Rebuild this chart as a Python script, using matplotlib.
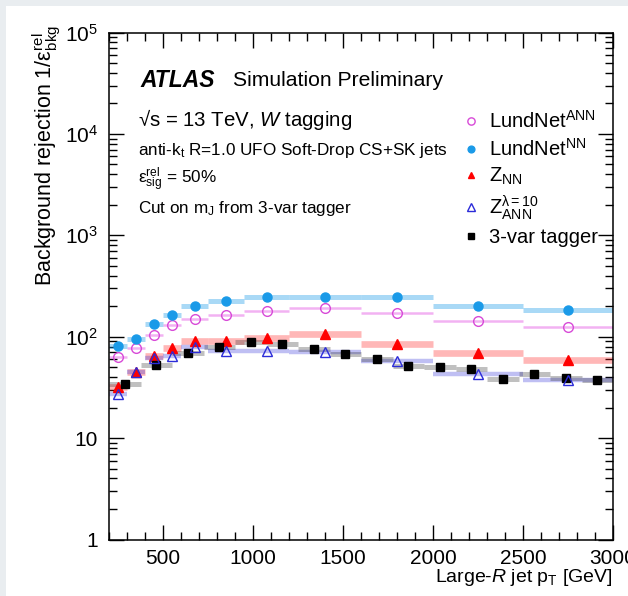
import numpy as np
import matplotlib
matplotlib.use('Agg')
import matplotlib.pyplot as plt
from matplotlib.ticker import MultipleLocator, LogLocator, FuncFormatter, NullFormatter
from matplotlib.patches import Rectangle

# pT bins used by the LundNet / Z taggers
lund_edges = [200, 300, 400, 500, 600, 750, 950, 1200, 1600, 2000, 2500, 3000]
lundnet_ann = [63, 77, 104, 131, 148, 164, 179, 193, 173, 144, 126]
lundnet_nn = [81, 95, 132, 165, 202, 226, 245, 248, 248, 201, 185]
z_nn = [32, 45, 64, 77, 91, 91, 96, 106, 85, 69, 59]
z_ann = [27, 45, 61, 64, 79, 73, 73, 71, 57, 43, 37]

# finer binning of the 3-var tagger
var3_edges = [200, 375, 550, 725, 900, 1075, 1250, 1425, 1600, 1775, 1950,
              2125, 2300, 2475, 2650, 2825, 3000]
var3 = [34, 53, 69, 79, 89, 85, 75, 68, 60.5, 51.5, 50, 48, 38.5, 42.5, 39.4, 37.2]


def y_fmt(v, pos):
    if v == 1:
        return '1'
    if v == 10:
        return '10'
    return '$10^{%d}$' % int(round(np.log10(v)))


def main():
    plt.rcParams['font.family'] = 'Liberation Sans'
    plt.rcParams['mathtext.fontset'] = 'custom'
    plt.rcParams['mathtext.rm'] = 'Liberation Sans'
    plt.rcParams['mathtext.it'] = 'Liberation Sans:italic'
    plt.rcParams['mathtext.bf'] = 'Liberation Sans:bold'

    fig = plt.figure(figsize=(6.28, 5.96), dpi=100, facecolor='#e9edf0')
    fig.patches.append(Rectangle((6 / 628, 0), 1, 590 / 596, transform=fig.transFigure,
                                 facecolor='white', edgecolor='none', zorder=-10))
    ax = fig.add_axes([109 / 628, 56.5 / 596, 504 / 628, 507 / 596])
    ax.set_zorder(5)

    lo = np.array(lund_edges[:-1])
    hi = np.array(lund_edges[1:])
    mid = (lo + hi) / 2
    vlo = np.array(var3_edges[:-1])
    vhi = np.array(var3_edges[1:])
    vmid = (vlo + vhi) / 2

    # uncertainty bands
    ax.hlines(lundnet_nn, lo, hi, colors='#1e9be8', alpha=0.38, linewidth=3.6)
    ax.hlines(lundnet_ann, lo, hi, colors='#e040e0', alpha=0.4, linewidth=1.8)
    ax.hlines(z_nn, lo, hi, colors='#ff2020', alpha=0.32, linewidth=4.8)
    ax.hlines(z_ann, lo, hi, colors='#2b2bd8', alpha=0.3, linewidth=3.2)
    ax.hlines(var3, vlo, vhi, colors='#303030', alpha=0.3, linewidth=3.6)

    ax.plot(mid, lundnet_ann, 'o', mfc='none', mec='#d84ad8', mew=1.0, ms=7,
            label='LundNet$^{\\mathrm{ANN}}$', zorder=5)
    ax.plot(mid, lundnet_nn, 'o', color='#1a9ae8', ms=6.5,
            label='LundNet$^{\\mathrm{NN}}$', zorder=5)
    ax.plot(mid, z_nn, '^', color='#ff0000', ms=6.5,
            label='Z$_{\\mathrm{NN}}$', zorder=5)
    ax.plot(mid, z_ann, '^', mfc='none', mec='#2b2bd8', mew=1.0, ms=7,
            label='Z$^{\\mathrm{\u03bb=10}}_{\\mathrm{ANN}}$', zorder=6)
    ax.plot(vmid, var3, 's', color='black', ms=6,
            label='3-var tagger', zorder=5)

    ax.set_xlim(200, 3000)
    ax.set_yscale('log')
    ax.set_ylim(1, 1e5)

    ax.xaxis.set_major_locator(MultipleLocator(500))
    ax.xaxis.set_minor_locator(MultipleLocator(100))
    ax.yaxis.set_major_locator(LogLocator(base=10, numticks=10))
    ax.yaxis.set_minor_locator(LogLocator(base=10, subs=np.arange(2, 10), numticks=20))
    ax.yaxis.set_major_formatter(FuncFormatter(y_fmt))
    ax.yaxis.set_minor_formatter(NullFormatter())

    ax.tick_params(which='both', direction='in', top=True, right=True, width=1.0,
                   labelsize=15)
    ax.tick_params(axis='x', which='major', length=11, pad=7)
    ax.tick_params(axis='x', which='minor', length=5.5)
    ax.tick_params(axis='y', which='major', length=10.5, pad=8)
    ax.tick_params(axis='y', which='minor', length=5.5)
    for s in ax.spines.values():
        s.set_linewidth(1.1)

    ax.set_xlabel('Large-$\\mathit{R}$ jet p$_{\\mathrm{T}}$ [GeV]', fontsize=14, loc='right')
    ax.xaxis.set_label_coords(1.0, -0.055)
    ax.set_ylabel('Background rejection 1/$\\mathrm{\u03b5}^{\\mathrm{rel}}_{\\mathrm{bkg}}$',
                  fontsize=15.5, loc='top')
    ax.yaxis.set_label_coords(-0.092, 1.014)

    ax.text(0.063, 0.905, 'ATLAS', transform=ax.transAxes, fontsize=16.5,
            fontweight='bold', fontstyle='italic', va='center')
    ax.text(0.246, 0.905, 'Simulation Preliminary', transform=ax.transAxes,
            fontsize=15.2, va='center')
    ax.text(0.057, 0.828, '\u221as = 13 TeV, $\\mathit{W}$ tagging', transform=ax.transAxes,
            fontsize=14.7, va='center')
    ax.text(0.057, 0.767, 'anti-k$_{\\mathrm{t}}$ R=1.0 UFO Soft-Drop CS+SK jets',
            transform=ax.transAxes, fontsize=12.3, va='center')
    ax.text(0.057, 0.710, '$\\mathrm{\u03b5}^{\\mathrm{rel}}_{\\mathrm{sig}}$ = 50%',
            transform=ax.transAxes, fontsize=12.3, va='center')
    ax.text(0.057, 0.652, 'Cut on m$_{\\mathrm{J}}$ from 3-var tagger',
            transform=ax.transAxes, fontsize=12.3, va='center')

    ax.legend(loc='upper left', bbox_to_anchor=(0.683, 0.867), frameon=False,
              fontsize=14.5, handlelength=0.8, handletextpad=0.5,
              labelspacing=0.3, markerscale=0.75, borderpad=0)

    fig.savefig('out.png', dpi=100, facecolor=fig.get_facecolor())


if __name__ == '__main__':
    main()
